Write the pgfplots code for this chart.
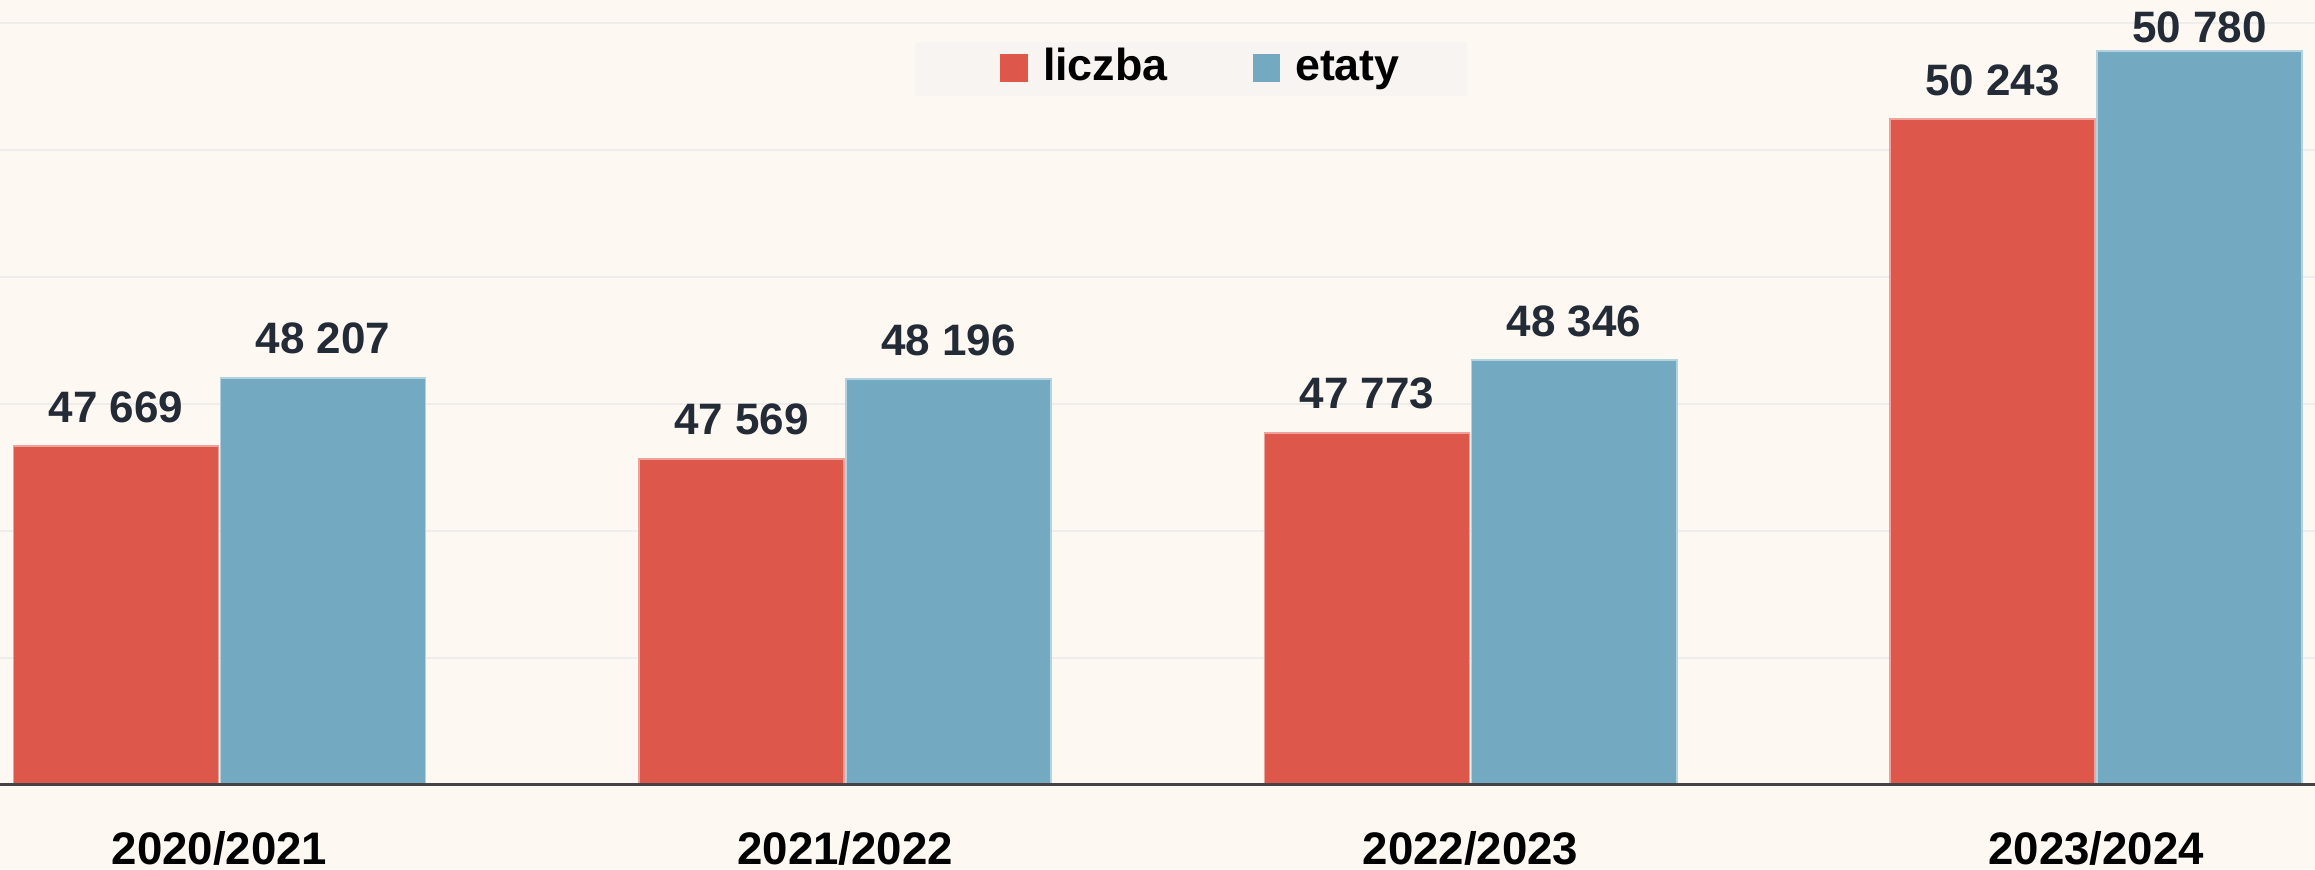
\documentclass[border=0pt]{standalone}
\usepackage{fontspec}
\setmainfont{Liberation Sans}
\usepackage{pgfplots}
\pgfplotsset{compat=1.18}
\usepackage{pgfplotstable}
\definecolor{bgc}{HTML}{FDF8F2}
\definecolor{legbg}{HTML}{F7F4F1}
\definecolor{gridc}{HTML}{EFEDEC}
\definecolor{axc}{HTML}{444444}
\definecolor{redc}{HTML}{DD574B}
\definecolor{rededge}{HTML}{EDA39B}
\definecolor{bluec}{HTML}{74A9C2}
\definecolor{blueedge}{HTML}{B2D2E0}
\definecolor{labc}{HTML}{222B36}

\pgfplotstableread{
x y s
0 47669 6
1 47569 6
2 47773 6
3 50243 6
}\liczba
\pgfplotstableread{
x y s
0 48207 6
1 48196 6
2 48346 6
3 50780 2.1
}\etaty

\begin{document}
\begin{tikzpicture}
\fill[bgc] (0pt,-20.9pt) rectangle (578.75pt,196.35pt);
\begin{axis}[
  at={(0pt,0pt)}, anchor=south west,
  scale only axis, width=578.75pt, height=196.35pt,
  xmin=-0.351, xmax=3.350, ymin=45000, ymax=51180,
  enlargelimits=false,
  axis line style={draw=none},
  tick style={draw=none},
  ytick={45000,46000,47000,48000,49000,50000,51000},
  yticklabels={},
  ymajorgrids, grid style={gridc, line width=0.5pt},
  xtick={0,1,2,3},
  xticklabels={2020/2021,2021/2022,2022/2023,2023/2024},
  xticklabel style={font=\fontsize{11.4}{13}\selectfont\bfseries, text=black, anchor=base, yshift=-15.6pt},
  ybar=0pt, bar width=0.328,
  nodes near coords={\pgfmathprintnumber[fixed, precision=0, 1000 sep={\ }, assume math mode=true]{\pgfplotspointmeta}},
  visualization depends on={\thisrow{s} \as \lshift},
  nodes near coords style={font=\fontsize{11}{13}\selectfont\bfseries, text=labc, anchor=base, yshift=\lshift pt},
  legend columns=2,
  legend style={at={(0.5145,0.9121)}, anchor=center, draw=none, fill=legbg,
    inner xsep=13pt, inner ysep=1.5pt,
    font=\fontsize{11.2}{13}\selectfont\bfseries,
    nodes={inner ysep=0pt, inner xsep=3.75pt, text height=8.2pt, text depth=2.3pt},
    /tikz/every even column/.append style={column sep=17.5pt}},
]
\addplot[fill=redc, draw=rededge, line width=0.4pt, bar shift=-0.1655,
  legend image code/.code={\path (-8.25pt,0pt); \fill[redc] (0pt,-2.95pt) rectangle (6.5pt,3.55pt);}]
  table[x=x, y=y] {\liczba};
\addlegendentry{liczba}
\addplot[fill=bluec, draw=blueedge, line width=0.4pt, bar shift=0.1655,
  legend image code/.code={\fill[bluec] (0pt,-2.95pt) rectangle (6.5pt,3.55pt);}]
  table[x=x, y=y] {\etaty};
\addlegendentry{etaty}
\draw[axc, line width=1pt] (rel axis cs:0,0) -- (rel axis cs:1,0);
\end{axis}
\pgfresetboundingbox
\useasboundingbox (0pt,-20.9pt) rectangle (578.75pt,196.35pt);
\end{tikzpicture}
\end{document}
